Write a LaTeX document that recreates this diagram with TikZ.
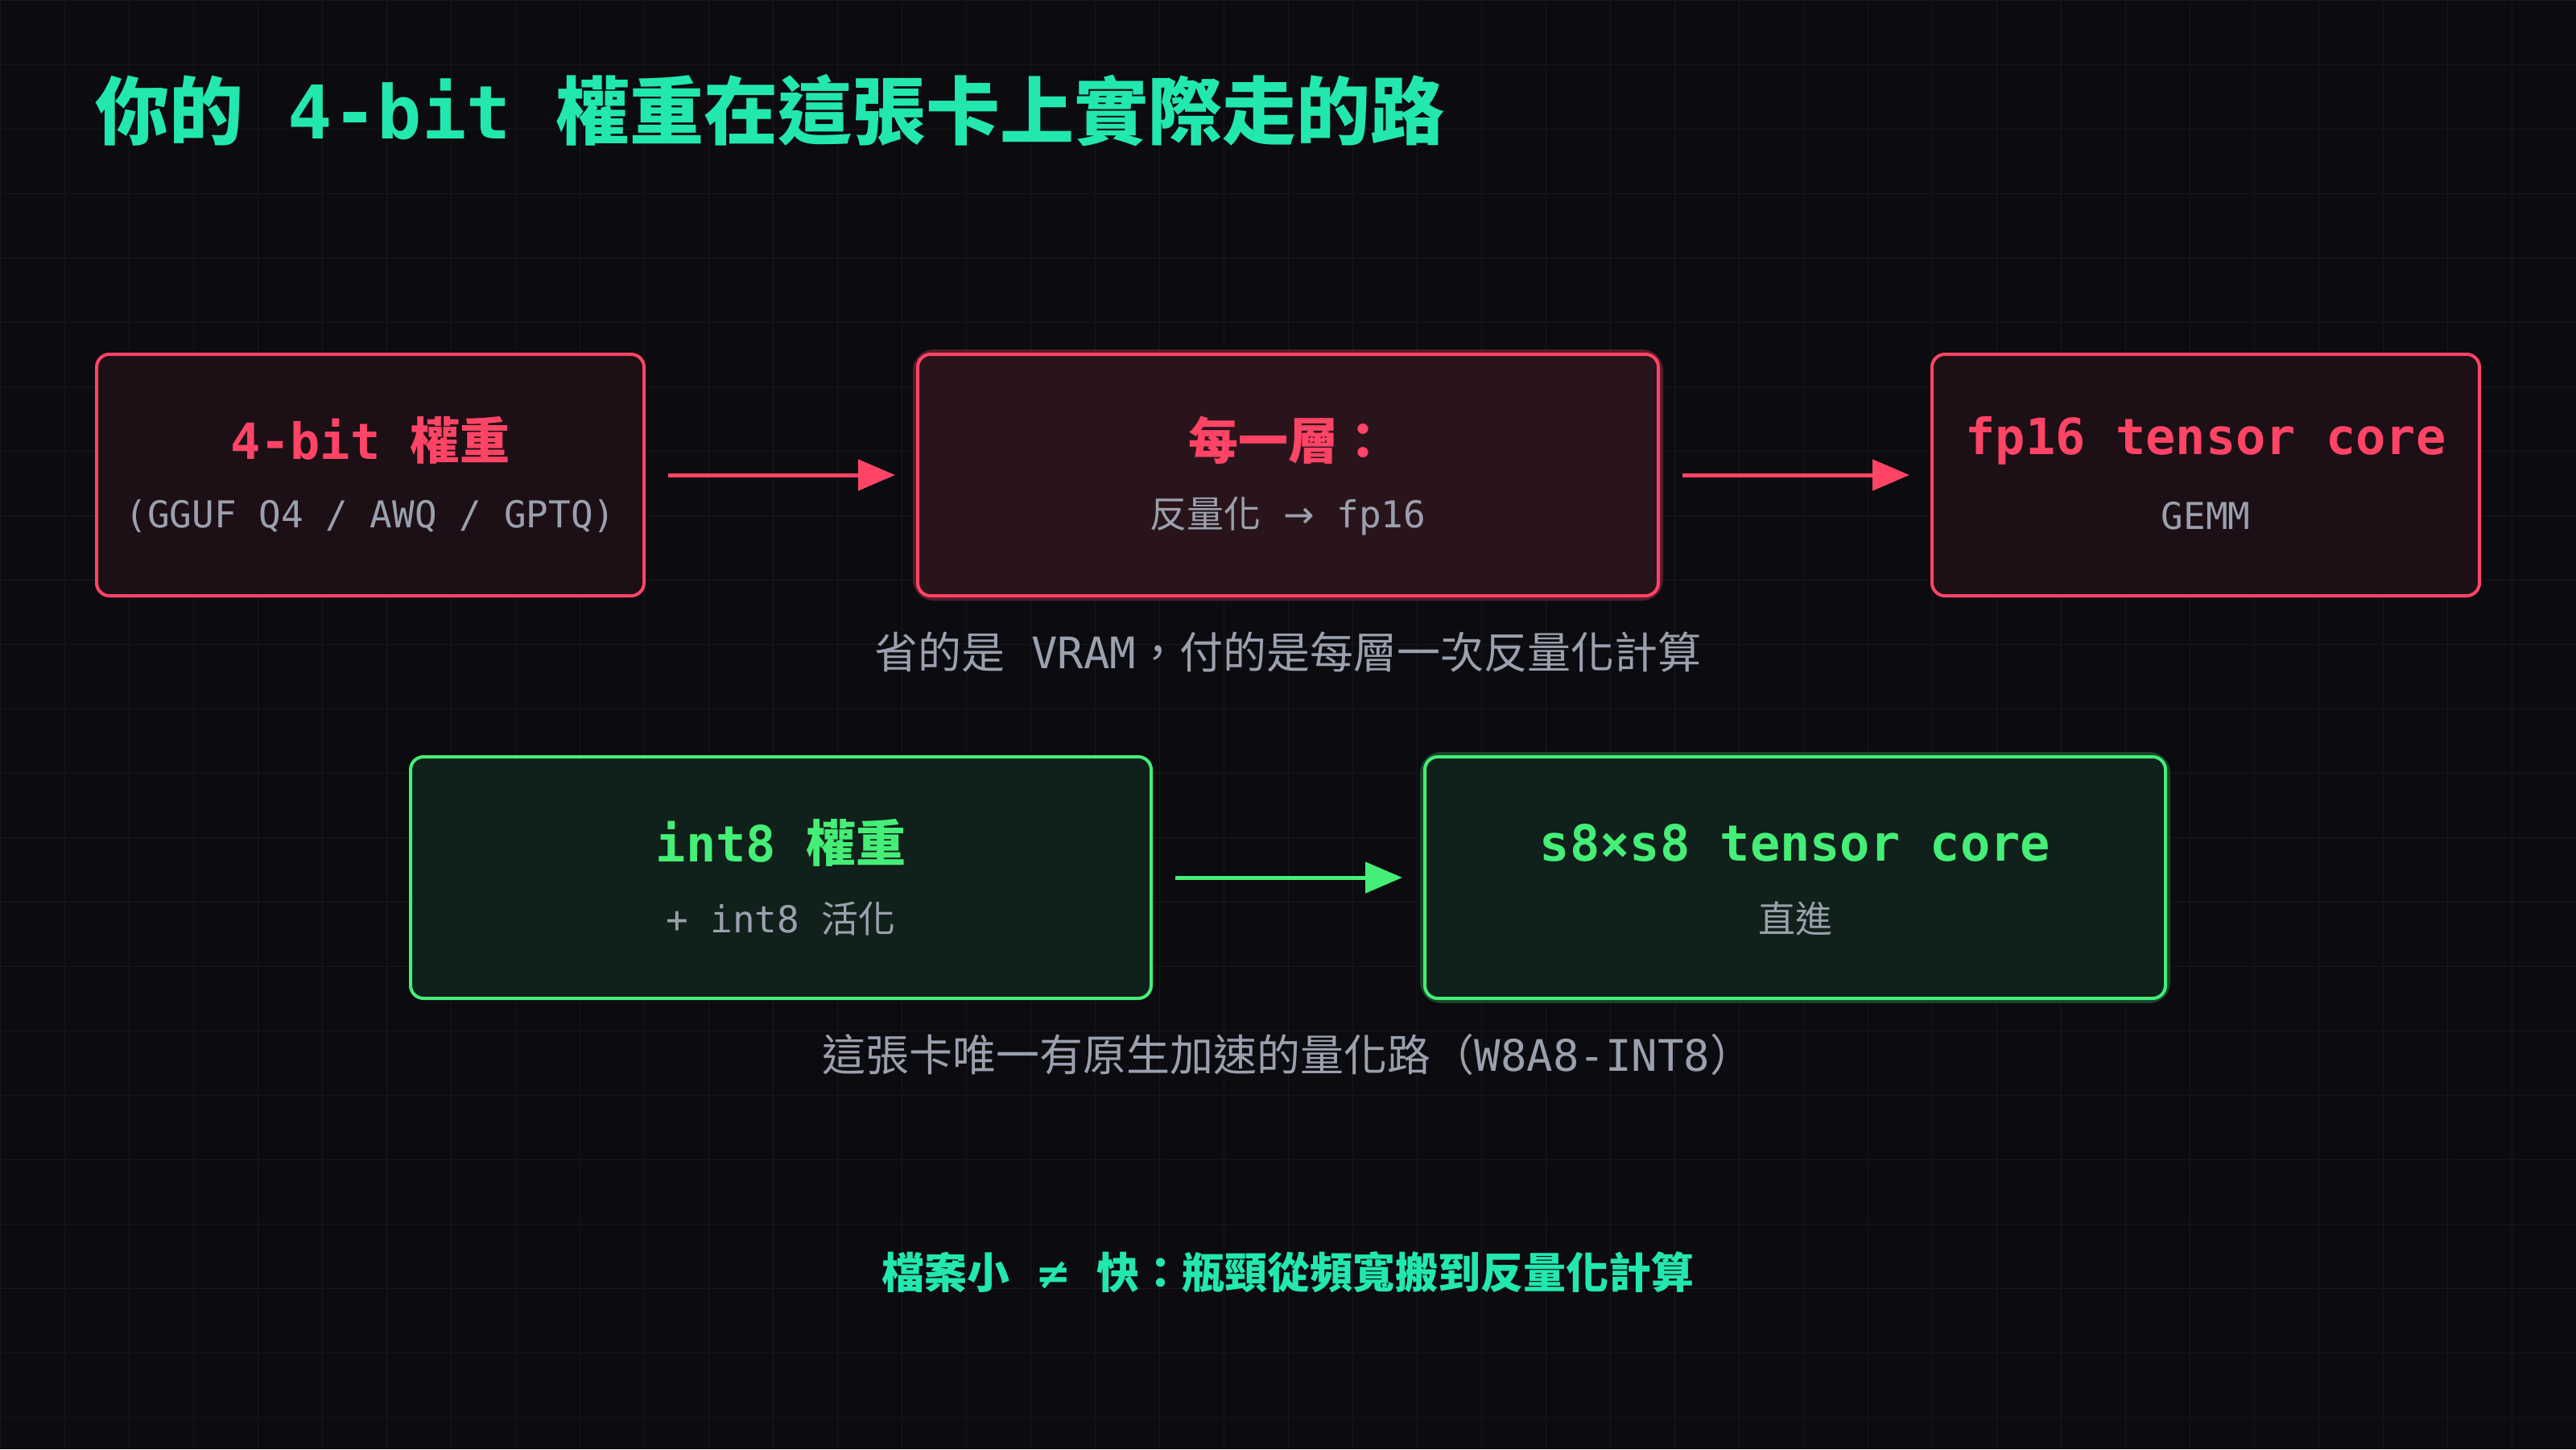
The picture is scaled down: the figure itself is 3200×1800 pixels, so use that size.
\documentclass[tikz,border=0pt]{standalone}
\usepackage{fontspec}
\usetikzlibrary{arrows.meta}
\setmainfont{DejaVu Sans Mono}
\newfontfamily\cjk{Noto Sans CJK TC}
\newcommand\cjkb{\cjk\bfseries}
\newfontfamily\sym{DejaVu Sans}
\definecolor{bg}{HTML}{0B0B10}
\definecolor{teal}{HTML}{22E8B0}
\definecolor{red}{HTML}{FF4466}
\definecolor{grn}{HTML}{44EE77}
\definecolor{gry}{HTML}{9AA0AD}
\definecolor{rfill}{HTML}{1C0F16}
\definecolor{rfill2}{HTML}{2A141C}
\definecolor{gfill}{HTML}{10201A}
\begin{document}
\begin{tikzpicture}[x=1pt,y=-1pt,
  rbox/.style={draw=red,line width=4pt,fill=rfill,rounded corners=16pt},
  gbox/.style={draw=grn,line width=4pt,fill=gfill,rounded corners=16pt},
  ttl/.style={font=\fontsize{62}{70}\selectfont\bfseries,anchor=center},
  sub/.style={font=\fontsize{46}{54}\selectfont,text=gry,anchor=center},
  captxt/.style={font=\fontsize{54}{62}\selectfont,text=gry,anchor=center},
  arr/.style={line width=5pt,-{Triangle[length=46pt,width=38pt]}}]
\fill[bg] (0,0) rectangle (3200,1800);
\useasboundingbox (0,0) rectangle (3200,1800);
\foreach \x in {0,80,...,3200} \draw[white!5!bg,line width=1pt] (\x,0)--(\x,1800);
\foreach \y in {0,80,...,1800} \draw[white!5!bg,line width=1pt] (0,\y)--(3200,\y);
\node[anchor=west,text=teal,font=\fontsize{92}{100}\selectfont\bfseries] (title) at (115,137)
 {{\cjkb 你的} 4-bit {\cjkb 權重在這張卡上實際走的路}};
% boxes
\node[rbox,minimum width=680pt,minimum height=300pt] (b1) at (460,590) {};
\draw[red!30!bg,line width=12pt,rounded corners=20pt] (1140,440) rectangle (2060,740);
\node[rbox,fill=rfill2,minimum width=920pt,minimum height=300pt] (b2) at (1600,590) {};
\node[rbox,minimum width=680pt,minimum height=300pt] (b3) at (2740,590) {};
\node[ttl,text=red] (t1) at (460,547) {4-bit {\cjkb 權重}};
\node[sub] (s1) at (460,641) {(GGUF Q4 / AWQ / GPTQ)};
\node[ttl,text=red] (t2) at (1600,547) {{\cjkb 每一層：}};
\node[sub] (s2) at (1600,641) {{\cjk 反量化} {\sym →} fp16};
\node[ttl,text=red] (t3) at (2740,547) {fp16 tensor core};
\node[sub] (s3) at (2740,641) {GEMM};
\coordinate (a1s) at (830,590); \coordinate (a1e) at (1112,590);
\coordinate (a2s) at (2090,590); \coordinate (a2e) at (2372,590);
\draw[arr,red] (a1s)--(a1e);
\draw[arr,red] (a2s)--(a2e);
\node[captxt] (c1) at (1600,810) {{\cjk 省的是} VRAM{\cjk ，付的是每層一次反量化計算}};
\draw[grn!25!bg,line width=12pt,rounded corners=20pt] (1770,940) rectangle (2690,1240);
\node[gbox,minimum width=920pt,minimum height=300pt] (b4) at (970,1090) {};
\node[gbox,minimum width=920pt,minimum height=300pt] (b5) at (2230,1090) {};
\node[ttl,text=grn] (t4) at (970,1047) {int8 {\cjkb 權重}};
\node[sub] (s4) at (970,1141) {+ int8 {\cjk 活化}};
\node[ttl,text=grn] (t5) at (2230,1047) {s8×s8 tensor core};
\node[sub] (s5) at (2230,1141) {{\cjk 直進}};
\coordinate (a3s) at (1460,1090); \coordinate (a3e) at (1742,1090);
\draw[arr,grn] (a3s)--(a3e);
\node[captxt] (c2) at (1600,1310) {{\cjk 這張卡唯一有原生加速的量化路（}W8A8-INT8{\cjk ）}};
\node[anchor=center,text=teal,font=\fontsize{53}{60}\selectfont\bfseries] (c3) at (1600,1580)
 {{\cjkb 檔案小} {\sym ≠} {\cjkb 快：瓶頸從頻寬搬到反量化計算}};
\end{tikzpicture}
\end{document}
